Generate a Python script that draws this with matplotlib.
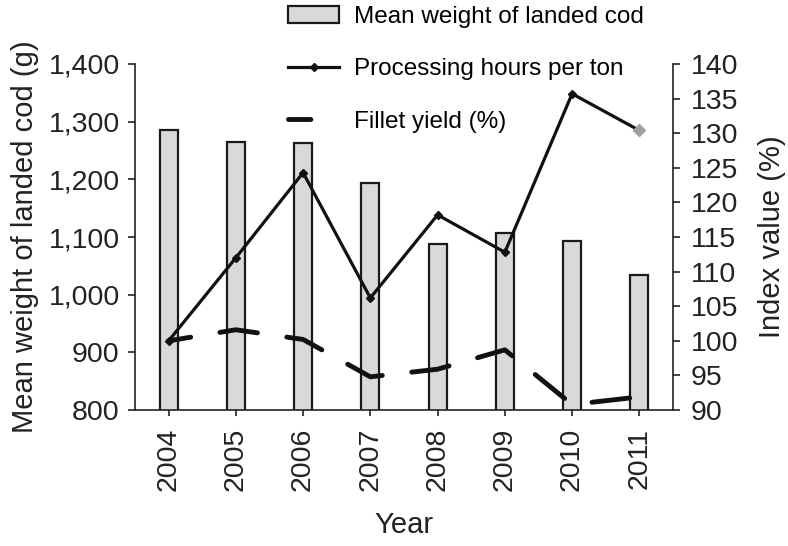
import matplotlib
matplotlib.use('Agg')
import matplotlib.pyplot as plt
from matplotlib.ticker import FuncFormatter

plt.rcParams['font.family'] = ['Liberation Sans', 'DejaVu Sans']

# Dados
anos = ['2004', '2005', '2006', '2007', '2008', '2009', '2010', '2011']
peso_medio = [1286, 1265, 1263, 1194, 1088, 1107, 1093, 1035]          # g
horas_por_ton = [100, 112, 124.3, 106.2, 118.2, 112.8, 135.7, 130.4]   # índice (%)
rendimento_filete = [100, 101.6, 100.2, 94.8, 95.9, 98.7, 90.8, 91.9]  # índice (%)

fs_tick = 20.5
fs_lab = 21
fs_leg = 17.5
cor_txt = '#222222'

fig = plt.figure(figsize=(7.88, 5.46), dpi=100)
ax = fig.add_axes([0.1713, 0.249, 0.854 - 0.1713, 0.8828 - 0.249])
ax2 = ax.twinx()

x = list(range(len(anos)))
b = ax.bar(x, peso_medio, width=0.27, color='#d9d9d9', edgecolor='#1a1a1a',
           linewidth=1.6, label='Mean weight of landed cod')

l1, = ax2.plot(x, horas_por_ton, color='#111111', lw=2.3, marker='D', ms=4,
               mfc='#111111', mec='#111111', label='Processing hours per ton')
# ultimo ponto em cinza
ax2.plot(x[-1], horas_por_ton[-1], ls='none', marker='D', ms=6,
         mfc='#a0a0a0', mec='#a0a0a0')
l2, = ax2.plot(x, rendimento_filete, color='#111111', lw=3.5, ls=(3.2, (7.8, 6.1)),
               dash_capstyle='round', label='Fillet yield (%)')

ax.set_xlim(-0.5, 7.5)
ax.set_ylim(800, 1400)
ax2.set_ylim(90, 140)
ax.set_yticks(range(800, 1401, 100))
ax2.set_yticks(range(90, 141, 5))
ax.yaxis.set_major_formatter(FuncFormatter(lambda v, p: f'{int(v):,}'))
ax.set_xticks(x)
ax.set_xticklabels(anos, rotation=90)

for a in (ax, ax2):
    a.spines['top'].set_visible(False)
    for s in a.spines.values():
        s.set_linewidth(1.2)
        s.set_color(cor_txt)
    a.tick_params(labelsize=fs_tick, colors=cor_txt, width=1.2, length=5)
ax.spines['right'].set_visible(False)
ax2.spines['left'].set_visible(False)
ax2.spines['bottom'].set_visible(False)
ax.tick_params(axis='y', pad=6)
ax2.tick_params(axis='y', pad=8)
ax.tick_params(axis='x', length=4, pad=9)

ax.set_xlabel('Year', fontsize=fs_lab, color=cor_txt, labelpad=14)
ax.set_ylabel('Mean weight of landed cod (g)', fontsize=fs_lab, color=cor_txt, labelpad=7)
ax2.set_ylabel('Index value (%)', fontsize=fs_lab, color=cor_txt, labelpad=14)

fig.legend(handles=[b, l1, l2], loc='upper left', bbox_to_anchor=(0.341, 1.025),
           frameon=False, fontsize=fs_leg, labelspacing=1.25, handlelength=2.1,
           handletextpad=0.6, borderpad=0.3)

fig.savefig('out.png', dpi=100)
